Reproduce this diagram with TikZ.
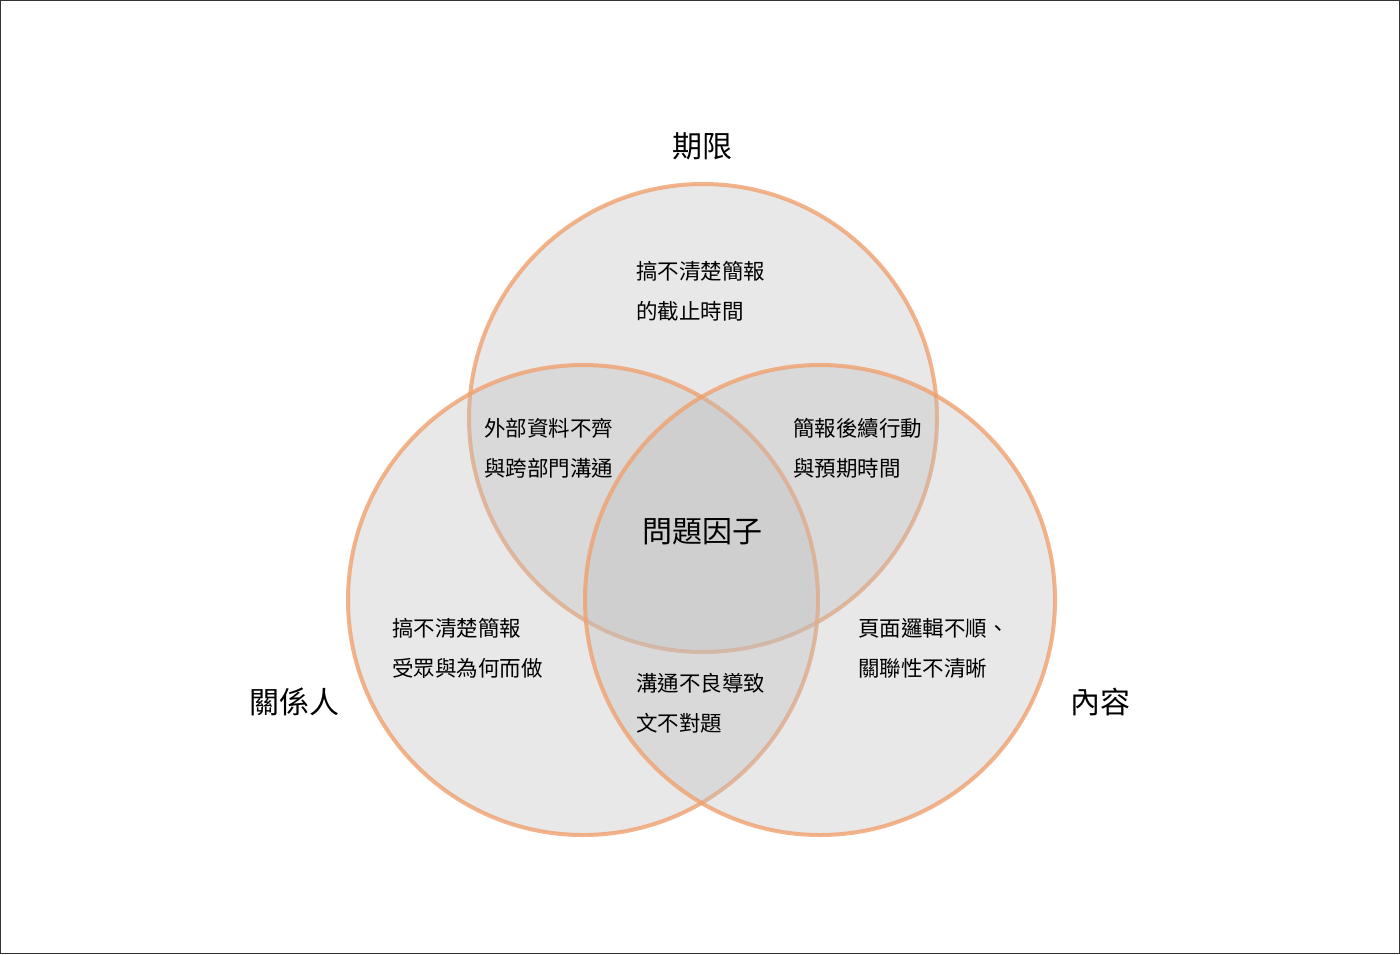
\documentclass[tikz,border=0pt]{standalone}
\usepackage{fontspec}
\setmainfont{Noto Sans CJK TC}
\begin{document}
\begin{tikzpicture}[x=1pt,y=-1pt,
  txt/.style={anchor=west, font=\fontsize{21.5}{24}\selectfont, inner sep=0pt},
  big/.style={font=\fontsize{30}{33}\selectfont, inner sep=0pt}]
\definecolor{ringc}{RGB}{240,160,110}
\tikzset{ring/.style={draw=ringc, draw opacity=0.8, line width=4pt, fill=black!25, fill opacity=0.35}}
\draw[black!80, line width=1pt, fill=white] (0.5,0.5) rectangle (1399.5,953.5);
\path[ring] (703,418) circle (234);
\path[ring] (583,600) circle (235);
\path[ring] (820,600) circle (235);
\node[big] (t) at (702,146) {期限};
\node[big] (l) at (294,702) {關係人};
\node[big] (r) at (1100,702) {內容};
\node[big] (c) at (702,532) {問題因子};
\node[txt] (a1) at (636,271) {搞不清楚簡報};
\node[txt] (a2) at (636,311) {的截止時間};
\node[txt] (b1) at (484,428) {外部資料不齊};
\node[txt] (b2) at (484,468) {與跨部門溝通};
\node[txt] (c1) at (793,428) {簡報後續行動};
\node[txt] (c2) at (793,468) {與預期時間};
\node[txt] (d1) at (392,628) {搞不清楚簡報};
\node[txt] (d2) at (392,668) {受眾與為何而做};
\node[txt] (e1) at (858,628) {頁面邏輯不順、};
\node[txt] (e2) at (858,668) {關聯性不清晰};
\node[txt] (f1) at (636,683) {溝通不良導致};
\node[txt] (f2) at (636,723) {文不對題};
\end{tikzpicture}
\end{document}
